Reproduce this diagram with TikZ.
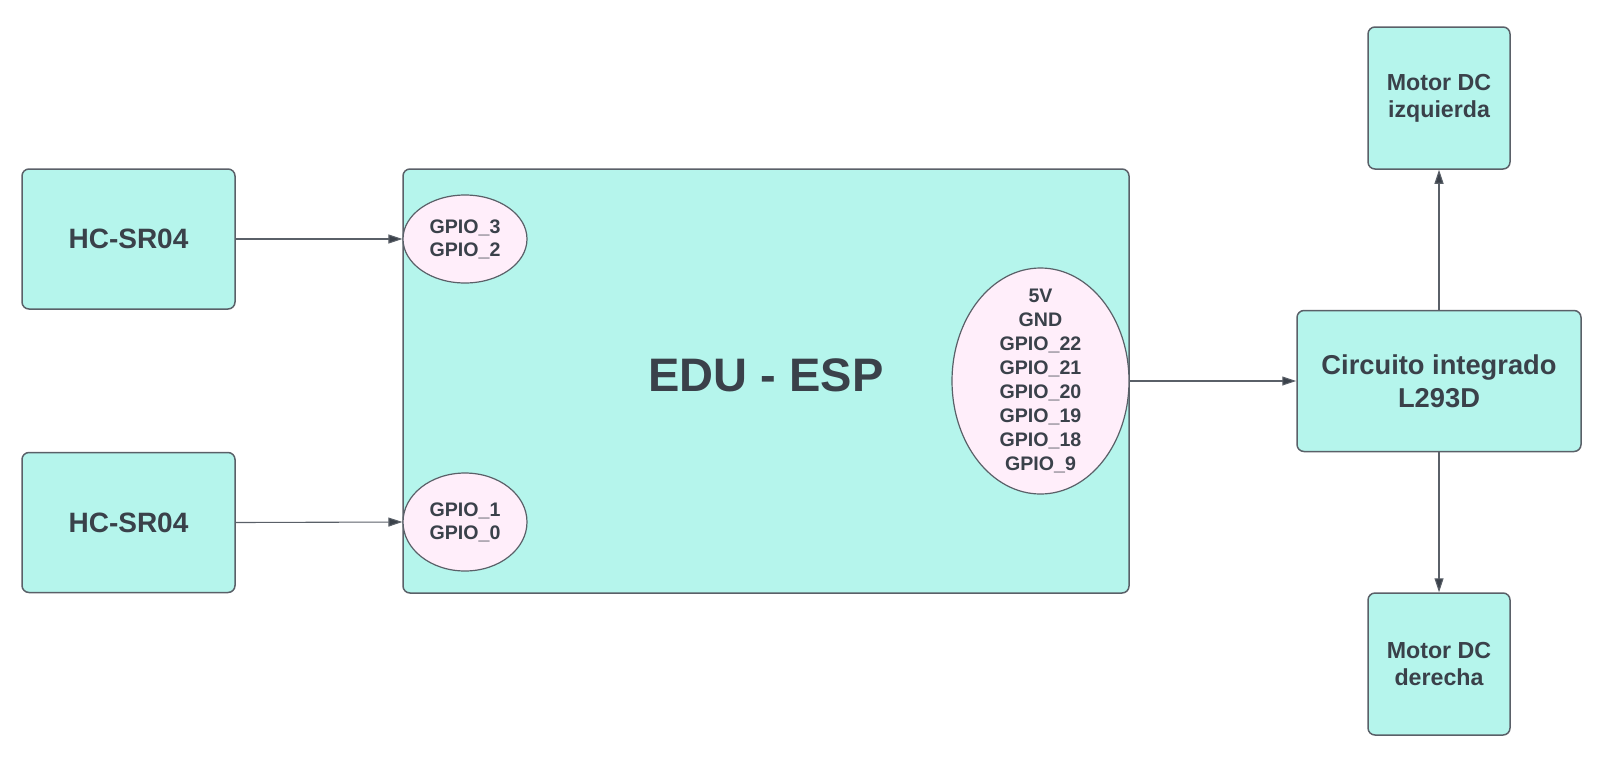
\documentclass[tikz,border=0pt]{standalone}
\usepackage{fontspec}
\setmainfont{Liberation Sans}
\usetikzlibrary{shapes.geometric,arrows.meta}

\definecolor{boxfill}{HTML}{B5F5EC}
\definecolor{pinfill}{HTML}{FFEEFA}
\definecolor{boxline}{HTML}{5A6068}
\definecolor{boxtext}{HTML}{3A414A}

\newcommand*\boxfont[2]{\bfseries\fontsize{#1}{#2}\selectfont}
\tikzset{
  block/.style 2 args={
    draw=boxline,
    line width=1.5pt,
    fill=boxfill,
    rectangle,
    rounded corners=7pt,
    inner sep=0pt,
    minimum width=#1,
    minimum height=#2,
    align=center,
    text=boxtext
  },
  pinpad/.style 2 args={
    draw=boxline,
    line width=1.2pt,
    fill=pinfill,
    ellipse,
    inner sep=0pt,
    minimum width=#1,
    minimum height=#2,
    align=center,
    text=boxtext,
    font=\boxfont{19.6}{23.2}
  },
  pintext/.style={
    align=center,
    inner sep=0pt,
    text=boxtext,
    font=\boxfont{19.6}{23.9}
  },
  link/.style={
    draw=boxline,
    line width=1.1pt,
    -{Triangle[length=14pt,width=9pt,fill=boxtext]}
  }
}

\begin{document}
\begin{tikzpicture}[x=1pt,y=-1pt]
    \useasboundingbox (0,0) rectangle (1600,758);

    % Sensors on the left.
    \node[block={213pt}{140pt},font=\boxfont{28}{34}] (hcA) at (128.5,239) {HC-SR04};
    \node[block={213pt}{140pt},font=\boxfont{28}{34}] (hcB) at (128.5,522.5) {HC-SR04};

    % The board and its pins.
    \node[block={726pt}{424pt},font=\boxfont{47}{56},text depth=12pt] (edu) at (766,381) {EDU - ESP};
    \node[pinpad={124pt}{88pt}] (pinsA) at (465,239) {GPIO\_3\\GPIO\_2};
    \node[pinpad={124pt}{98pt}] (pinsB) at (465,522) {GPIO\_1\\GPIO\_0};
    \node[pinpad={177pt}{226pt}] (pinsC) at (1040.5,381) {};
    \node[pintext] (pinsCtxt) at (pinsC) {5V\\GND\\GPIO\_22\\GPIO\_21\\GPIO\_20\\GPIO\_19\\GPIO\_18\\GPIO\_9};

    % Driver and motors.
    \node[block={284pt}{141pt},font=\boxfont{27.3}{33}] (driver) at (1439,381) {Circuito integrado\\L293D};
    \node[block={142pt}{142pt},font=\boxfont{23.2}{27}] (motorL) at (1439,98) {Motor DC\\izquierda};
    \node[block={142pt}{142pt},font=\boxfont{23.2}{27}] (motorR) at (1439,664) {Motor DC\\derecha};

    % Connections.
    \draw[link] (hcA.east) -- (pinsA.west);
    \draw[link] (hcB.east) -- (pinsB.west);
    \draw[link] (pinsC.east) -- (driver.west);
    \draw[link] (driver.north) -- (motorL.south);
    \draw[link] (driver.south) -- (motorR.north);
\end{tikzpicture}
\end{document}
